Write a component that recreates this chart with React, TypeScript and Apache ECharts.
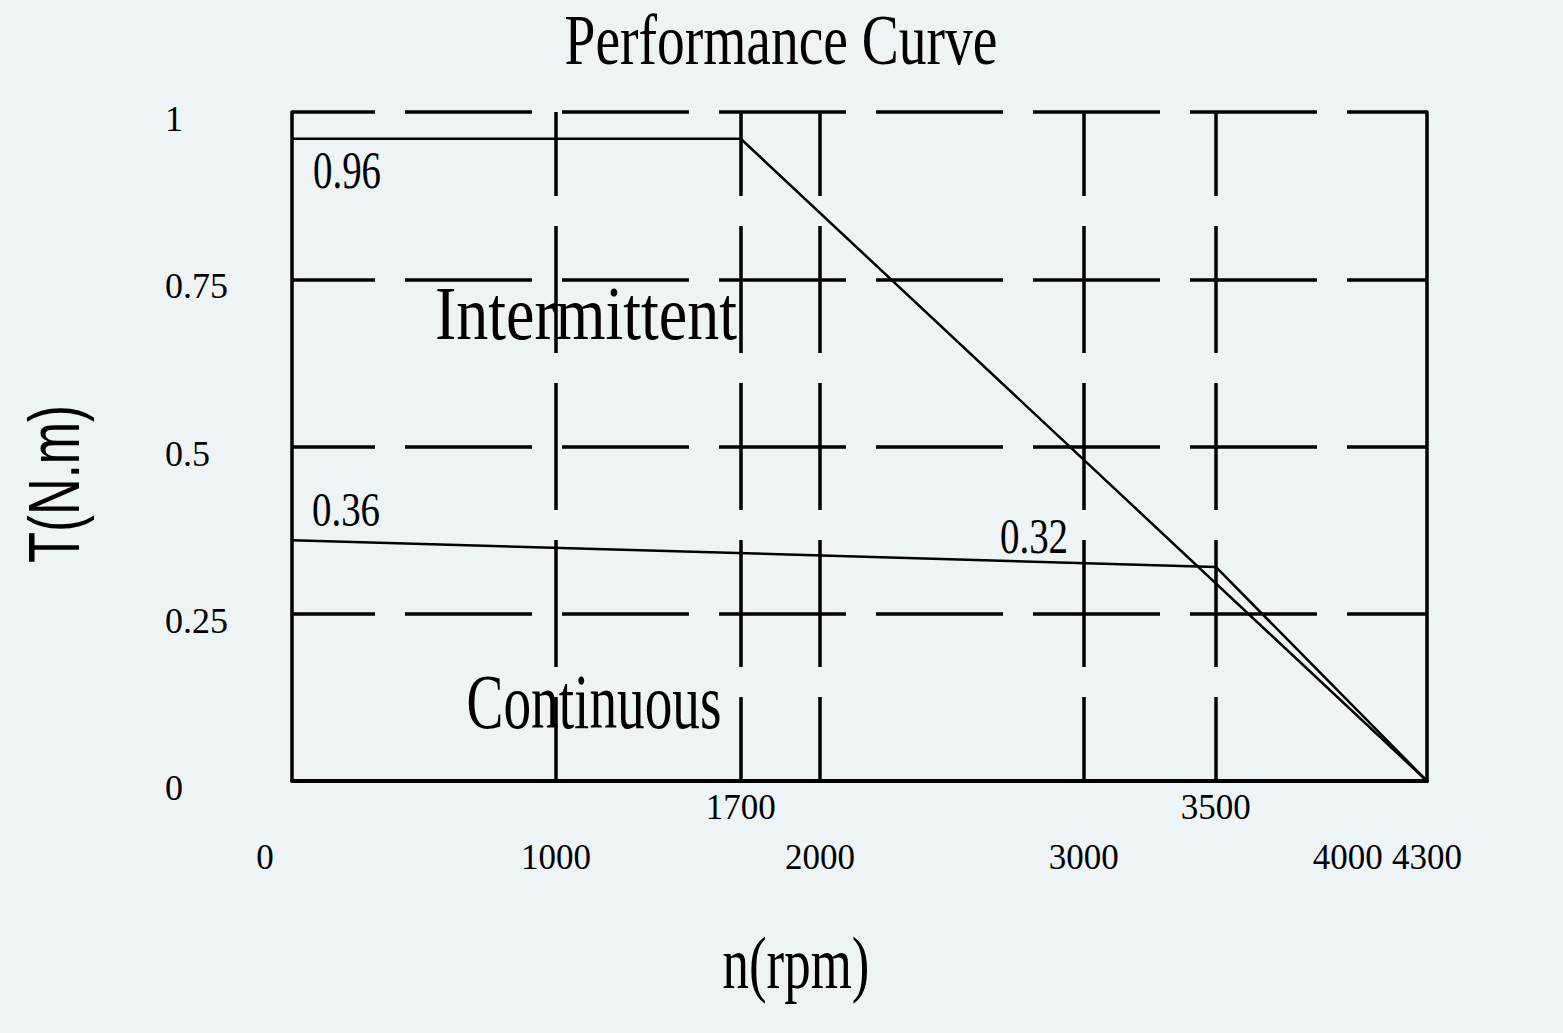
import React, { useEffect, useRef } from "react";
import * as echarts from "echarts";

const xMainTicks = [0, 1000, 2000, 3000, 4000, 4300];
const xMarkedTicks = [1700, 3500];
const gridRpm = [1000, 1700, 2000, 3000, 3500];
const gridTorque = [0.25, 0.5, 0.75, 1];
const intermittentRpm = [0, 1700, 4300];
const intermittentTorque = [0.96, 0.96, 0];
const continuousRpm = [0, 3500, 4300];
const continuousTorque = [0.36, 0.32, 0];

const BG = "#eef3f6";
const SERIF = '"Liberation Serif", "Times New Roman", serif';
const SANS = '"Liberation Sans", Arial, sans-serif';

function measure(text: string, size: number, family: string) {
  const c = document.createElement("canvas").getContext("2d")!;
  c.font = `${size}px ${family}`;
  return c.measureText(text).width;
}

// size the text so that its width fits targetW, then stretch its height to capH
function fitText(
  text: string,
  cx: number,
  cy: number,
  targetW: number,
  capH: number,
  family: string,
  capRatio: number,
  rotation = 0
) {
  const size = (targetW / measure(text, 100, family)) * 100;
  return {
    type: "text",
    x: cx,
    y: cy,
    rotation,
    scaleX: 1,
    scaleY: capH / (capRatio * size),
    silent: true,
    style: {
      text,
      fill: "#000",
      font: `${size.toFixed(1)}px ${family}`,
      align: "center",
      verticalAlign: "middle",
    },
  };
}

export default function App() {
  const ref = useRef<HTMLDivElement>(null);
  useEffect(() => {
    document.body.style.margin = "0";
    document.body.style.background = BG;
    const chart = echarts.init(ref.current!, undefined, { renderer: "svg" });
    const dash = { color: "#000", width: 3.5, type: [127, 30] as any, dashOffset: 43 };
    const labelBase = { color: "#000", fontFamily: SERIF, fontSize: 35 };
    chart.setOption({
      animation: false,
      backgroundColor: BG,
      grid: { left: 292, right: 136, top: 112, bottom: 252, containLabel: false },
      xAxis: [
        {
          type: "value",
          min: 0,
          max: 4300,
          axisLine: { show: true, onZero: false, lineStyle: { color: "#000", width: 4 } },
          axisTick: { show: false },
          splitLine: { show: false },
          axisLabel: {
            ...labelBase,
            customValues: xMainTicks,
            margin: 59,
            showMinLabel: true,
            showMaxLabel: true,
            formatter: (v: number) => (v === 0 ? "{z|0}" : String(v)),
            rich: { z: { ...labelBase, padding: [0, 54, 0, 0] } },
          },
        },
        {
          type: "value",
          min: 0,
          max: 4300,
          position: "bottom",
          axisLine: { show: false },
          axisTick: { show: false },
          splitLine: { show: false },
          axisLabel: {
            ...labelBase,
            customValues: xMarkedTicks,
            margin: 9,
            showMinLabel: true,
            showMaxLabel: true,
            formatter: (v: number) => String(v),
          },
        },
      ],
      yAxis: [
        {
          type: "value",
          min: 0,
          max: 1,
          interval: 0.25,
          axisLine: { show: true, onZero: false, lineStyle: { color: "#000", width: 3.5 } },
          axisTick: { show: false },
          splitLine: { show: false },
          axisLabel: {
            ...labelBase,
            fontSize: 36,
            align: "left",
            verticalAlign: "top",
            lineHeight: 14,
            margin: 127,
            showMinLabel: true,
            showMaxLabel: true,
            formatter: (v: number) => String(v),
          },
        },
        {
          type: "value",
          min: 0,
          max: 1,
          position: "right",
          axisLine: { show: true, onZero: false, lineStyle: { color: "#000", width: 3.5 } },
          axisTick: { show: false },
          splitLine: { show: false },
          axisLabel: { show: false },
        },
      ],
      series: [
        {
          name: "Intermittent",
          type: "line",
          data: intermittentRpm.map((r, i) => [r, intermittentTorque[i]]),
          showSymbol: false,
          symbol: "none",
          lineStyle: { color: "#000", width: 2.5 },
          z: 5,
          markLine: {
            silent: true,
            symbol: ["none", "none"],
            label: { show: false },
            lineStyle: dash,
            data: [
              ...gridRpm.map((v) => ({ xAxis: v, lineStyle: { ...dash, dashOffset: 43 } })),
              ...gridTorque.map((v) => ({ yAxis: v, lineStyle: { ...dash, dashOffset: 44 } })),
            ],
          },
        },
        {
          name: "Continuous",
          type: "line",
          data: continuousRpm.map((r, i) => [r, continuousTorque[i]]),
          showSymbol: false,
          symbol: "none",
          lineStyle: { color: "#000", width: 2.5 },
          z: 5,
        },
      ],
      graphic: [
        fitText("Performance Curve", 781, 40, 433, 47, SERIF, 0.662),
        fitText("Intermittent", 586, 314, 302, 50, SERIF, 0.662),
        fitText("Continuous", 594, 701, 255, 52, SERIF, 0.662),
        fitText("0.96", 347, 170, 68, 35, SERIF, 0.676),
        fitText("0.36", 346, 510, 68, 33, SERIF, 0.676),
        fitText("0.32", 1034, 536, 68, 34, SERIF, 0.676),
        fitText("n(rpm)", 796, 963, 147, 34, SERIF, 0.459),
        fitText("T(N.m)", 54, 484, 158, 52, SANS, 0.716, Math.PI / 2),
      ],
    });
    return () => chart.dispose();
  }, []);
  return (
    <div
      ref={ref}
      style={{ position: "fixed", left: 0, top: 0, width: 1563, height: 1033, background: BG }}
    />
  );
}
